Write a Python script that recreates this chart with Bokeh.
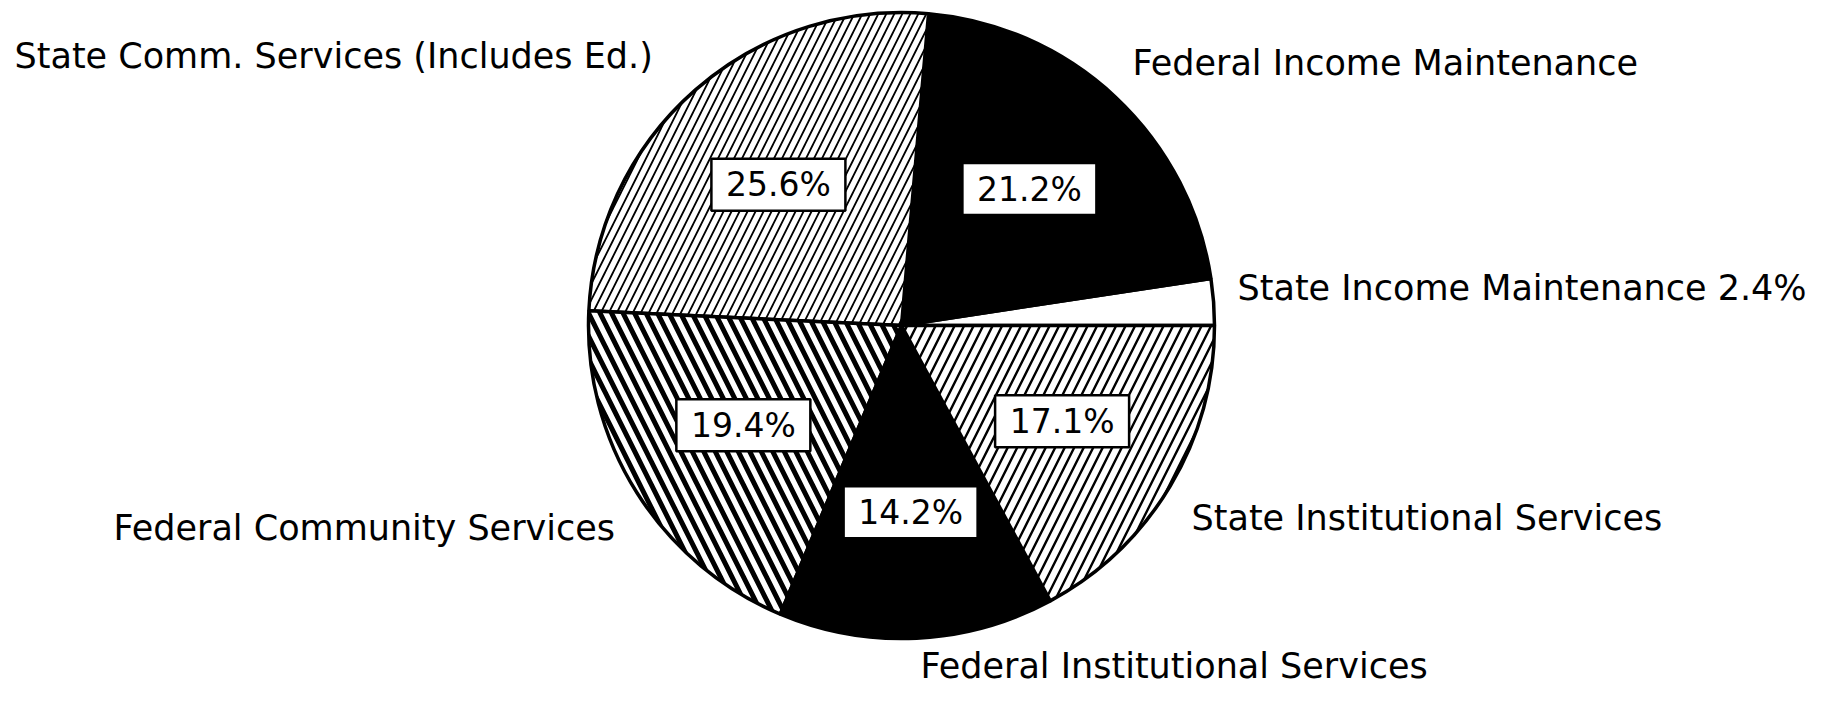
import numpy as np
from bokeh.plotting import figure
from bokeh.models import Range1d, ColumnDataSource
from bokeh.embed import file_html
from bokeh.resources import INLINE
from bokeh.core.properties import value

# ---- data ----
categories = [
    "State Income Maintenance",
    "Federal Income Maintenance",
    "State Comm. Services (Includes Ed.)",
    "Federal Community Services",
    "Federal Institutional Services",
    "State Institutional Services",
]
percents = [2.4, 21.2, 25.6, 19.4, 14.2, 17.1]
outside_text = [
    "State Income Maintenance 2.4%",
    "Federal Income Maintenance",
    "State Comm. Services (Includes Ed.)",
    "Federal Community Services",
    "Federal Institutional Services",
    "State Institutional Services",
]
inside_text = ["", "21.2%", "25.6%", "19.4%", "14.2%", "17.1%"]

# ---- styles / layout ----
fills = ["white", "black", "white", "white", "black", "white"]
hatches = [" ", " ", "/", "\\", " ", "/"]
hatch_scales = [10, 10, 16, 23, 10, 19]
hatch_weights = [1, 1, 1.8, 5.0, 1, 2.4]
# outside label anchors (picture px: left x, middle y)
out_pos = [(1237, 287), (1132, 62), (14, 55), (113, 527), (920, 665), (1191, 517)]

W, H = 1835, 705
def fy(py):
    return H - py

cx, cy, R = 901, fy(325), 313
vals = np.array(percents)
frac = vals / vals.sum()
ends = np.cumsum(frac) * 2 * np.pi
starts = np.concatenate([[0.0], ends[:-1]])
mids = (starts + ends) / 2

p = figure(width=1819, height=689, x_range=Range1d(0, 1819), y_range=Range1d(16, 705),
           toolbar_location=None, output_backend="svg", min_border=0)
p.axis.visible = False
p.grid.visible = False
p.outline_line_color = None
p.background_fill_color = "white"

src = ColumnDataSource(dict(
    start=starts, end=ends, fill=fills, hatch=hatches,
    hs=hatch_scales, hw=hatch_weights, cat=categories,
))
p.wedge(x=cx, y=cy, radius=R, start_angle="start", end_angle="end", source=src,
        fill_color="fill", line_color="black", line_width=3.5,
        hatch_pattern="hatch", hatch_scale="hs", hatch_weight="hw", hatch_color="black")

# inside percentage boxes
rl = 187
idx = [i for i, t in enumerate(inside_text) if t]
bx = [cx + rl * np.cos(mids[i]) for i in idx]
by = [cy + rl * np.sin(mids[i]) for i in idx]
bt = [inside_text[i] for i in idx]
p.rect(x=bx, y=by, width=134, height=52, fill_color="white", line_color="black", line_width=2.5)
p.text(x=bx, y=by, text=bt, text_align="center", text_baseline="middle",
       text_font=value("DejaVu Sans"), text_font_size="33px", text_color="black")

# outside labels
p.text(x=[q[0] for q in out_pos], y=[fy(q[1]) for q in out_pos], text=outside_text,
       text_align="left", text_baseline="middle",
       text_font=value("DejaVu Sans"), text_font_size="35px", text_color="black")

open("out.html", "w").write(file_html(p, INLINE))
